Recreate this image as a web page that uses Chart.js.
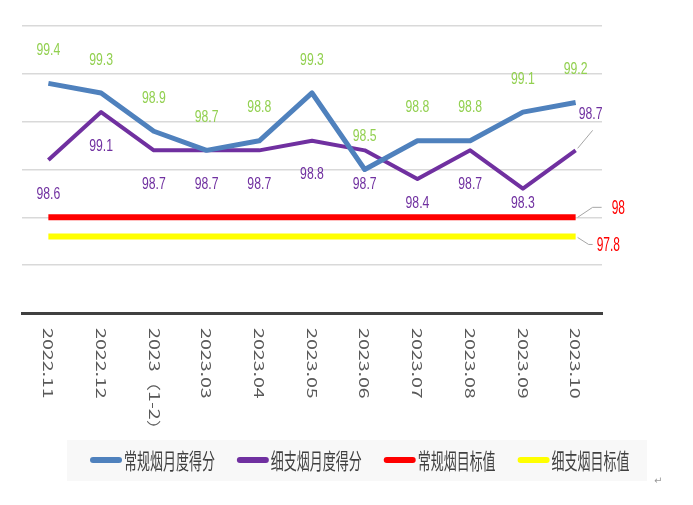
<!DOCTYPE html>
<html><head><meta charset="utf-8">
<script src="https://cdn.jsdelivr.net/npm/chart.js@4/dist/chart.umd.min.js"></script>
<style>html,body{margin:0;padding:0;background:#fff;}#wrap{position:relative;width:693px;height:505px;}</style>
</head><body><div id="wrap"><canvas id="c" width="693" height="505"></canvas></div>
<script>
const categories = ['2022.11','2022.12','2023（1-2）','2023.03','2023.04','2023.05','2023.06','2023.07','2023.08','2023.09','2023.10'];
const regularScore = [99.4, 99.3, 98.9, 98.7, 98.8, 99.3, 98.5, 98.8, 98.8, 99.1, 99.2];
const slimScore = [98.6, 99.1, 98.7, 98.7, 98.7, 98.8, 98.7, 98.4, 98.7, 98.3, 98.7];
const regularTarget = [98, 98, 98, 98, 98, 98, 98, 98, 98, 98, 98];
const slimTarget = [97.8, 97.8, 97.8, 97.8, 97.8, 97.8, 97.8, 97.8, 97.8, 97.8, 97.8];
const seriesNames = ['常规烟月度得分', '细支烟月度得分', '常规烟目标值', '细支烟目标值'];
const yMin = 97, yMax = 100, yStep = 0.5;

const COLORS = ['#4F81BD', '#7030A0', '#FF0000', '#FFFF00'];
const WIDTHS = [5, 4, 6, 6];

function drawNarrow(ctx, text, x, y, size, color, align, sx) {
  ctx.save();
  ctx.font = size + 'px "Liberation Sans", Arial, sans-serif';
  ctx.fillStyle = color;
  ctx.textBaseline = 'middle';
  const w = ctx.measureText(text).width * sx;
  let left = x;
  if (align === 'center') left = x - w / 2;
  else if (align === 'right') left = x - w;
  ctx.translate(left, y);
  ctx.scale(sx, 1);
  ctx.textAlign = 'left';
  ctx.fillText(text, 0, 0);
  ctx.restore();
}

const labelPlugin = {
  id: 'customLabels',
  beforeDraw(chart) {
    const ctx = chart.ctx;
    ctx.save();
    ctx.fillStyle = '#ffffff';
    ctx.fillRect(0, 0, chart.width, chart.height);
    ctx.fillStyle = '#f8f8f8';
    ctx.fillRect(67, 440, 580, 41);
    ctx.restore();
  },
  afterDatasetsDraw(chart) {
    const ctx = chart.ctx;
    const m0 = chart.getDatasetMeta(0).data;
    const m1 = chart.getDatasetMeta(1).data;
    const m2 = chart.getDatasetMeta(2).data;
    const m3 = chart.getDatasetMeta(3).data;
    const d = chart.data.datasets;
    m0.forEach((p, i) => {
      drawNarrow(ctx, d[0].data[i].toFixed(1), p.x, p.y - 33, 17, '#92D050', 'center', 0.72);
    });
    const last = m1.length - 1;
    m1.forEach((p, i) => {
      if (i === last) return;
      drawNarrow(ctx, d[1].data[i].toFixed(1), p.x, Math.min(p.y + 34, 203), 17, '#7030A0', 'center', 0.72);
    });
    ctx.save();
    ctx.strokeStyle = '#a6a6a6';
    ctx.lineWidth = 1;
    let p = m1[last];
    ctx.beginPath(); ctx.moveTo(p.x + 2, p.y - 2); ctx.lineTo(p.x + 17, p.y - 20); ctx.stroke();
    drawNarrow(ctx, d[1].data[last].toFixed(1), p.x + 15, p.y - 36, 17, '#7030A0', 'center', 0.72);
    p = m2[m2.length - 1];
    ctx.beginPath(); ctx.moveTo(p.x + 2, p.y); ctx.lineTo(p.x + 17, p.y - 10); ctx.lineTo(p.x + 26, p.y - 10); ctx.stroke();
    drawNarrow(ctx, String(d[2].data[m2.length - 1]), p.x + 36, p.y - 9, 20, '#FF0000', 'left', 0.6);
    p = m3[m3.length - 1];
    ctx.beginPath(); ctx.moveTo(p.x + 2, p.y + 1); ctx.lineTo(p.x + 13, p.y + 8); ctx.lineTo(p.x + 17, p.y + 8); ctx.stroke();
    drawNarrow(ctx, String(d[3].data[m3.length - 1]), p.x + 21, p.y + 9, 20, '#FF0000', 'left', 0.6);
    ctx.restore();
  },
  afterDraw(chart) {
    const ctx = chart.ctx;
    const xs = chart.scales.x;
    ctx.save();
    ctx.fillStyle = '#595959';
    ctx.font = '14px "Noto Sans CJK SC", "DejaVu Sans", sans-serif';
    ctx.textAlign = 'left';
    ctx.textBaseline = 'middle';
    chart.data.labels.forEach((lab, i) => {
      const x = xs.getPixelForValue(i);
      ctx.save();
      ctx.translate(x, 328);
      ctx.rotate(Math.PI / 2);
      ctx.scale(1.4, 1);
      ctx.fillText(lab, 0, 0);
      ctx.restore();
    });
    ctx.restore();
    // legend
    ctx.save();
    let x = 90;
    const ly = 460;
    const sx = 0.59;
    ctx.font = '22px "Noto Sans CJK SC", sans-serif';
    chart.data.datasets.forEach((ds, i) => {
      ctx.strokeStyle = ds.borderColor;
      ctx.lineWidth = 6;
      ctx.lineCap = 'round';
      ctx.beginPath(); ctx.moveTo(x + 3, ly); ctx.lineTo(x + 29, ly); ctx.stroke();
      x += 34;
      ctx.save();
      ctx.fillStyle = '#404040';
      ctx.textBaseline = 'middle';
      ctx.textAlign = 'left';
      const w = ctx.measureText(ds.label).width * sx;
      ctx.translate(x, ly + 1);
      ctx.scale(sx, 1);
      ctx.fillText(ds.label, 0, 0);
      ctx.restore();
      x += w + 22;
    });
    ctx.fillStyle = '#9a9a9a';
    ctx.font = '10px "DejaVu Sans", sans-serif';
    ctx.fillText('↵', 654, 484);
    ctx.restore();
  }
};

const datasets = [regularScore, slimScore, regularTarget, slimTarget].map((arr, i) => ({
  label: seriesNames[i],
  data: arr,
  borderColor: COLORS[i],
  backgroundColor: COLORS[i],
  borderWidth: WIDTHS[i],
  pointRadius: 0,
  pointHoverRadius: 0,
  tension: 0,
  fill: false,
  borderJoinStyle: 'round',
  borderCapStyle: 'butt',
  order: i + 1
}));

new Chart(document.getElementById('c'), {
  type: 'line',
  data: { labels: categories, datasets },
  options: {
    responsive: false,
    animation: false,
    devicePixelRatio: 1,
    layout: { padding: { left: 22, right: 91, top: 26, bottom: 184 } },
    plugins: { legend: { display: false }, tooltip: { enabled: false } },
    scales: {
      x: {
        offset: true,
        grid: { display: false },
        border: { display: true, color: '#404040', width: 3 },
        ticks: { display: false }
      },
      y: {
        min: yMin, max: yMax,
        ticks: { display: false, stepSize: yStep },
        grid: { color: '#d9d9d9', lineWidth: 1.5, drawTicks: false },
        border: { display: false }
      }
    }
  },
  plugins: [labelPlugin]
});
</script></body></html>
